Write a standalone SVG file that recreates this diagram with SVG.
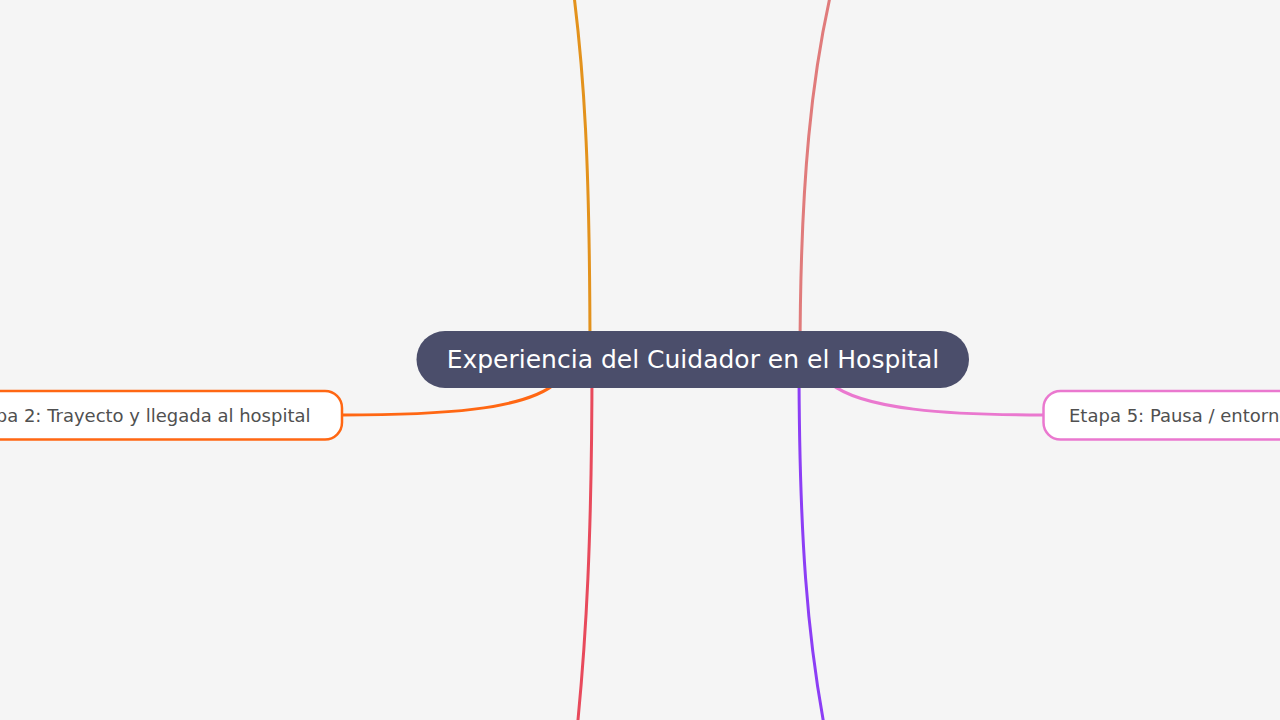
<svg xmlns="http://www.w3.org/2000/svg" width="1280" height="720" viewBox="0 0 1280 720">
<style>
.conn{fill:none;stroke-width:3;stroke-linecap:round}
.topic{fill:#ffffff;stroke-width:2.5}
.tt{font-family:"DejaVu Sans","Liberation Sans",sans-serif;font-size:18px;fill:#505050}
.ct{font-family:"DejaVu Sans","Liberation Sans",sans-serif;font-size:25px;fill:#ffffff}
</style>
<rect width="1280" height="720" fill="#f5f5f5"/>
<g id="connectors">
<path class="conn" stroke="#e3921c" d="M590,360 C590,160 584,70 572,-20"/>
<path class="conn" stroke="#e07b7b" d="M800,360 C800,180 812,70 834,-20"/>
<path class="conn" stroke="#e84a5c" d="M592,360 C592,540 586,640 577,730"/>
<path class="conn" stroke="#8c3ef5" d="M799,360 C799,540 808,640 825,730"/>
<path class="conn" stroke="#ff6713" d="M556,383 C525,410 440,415 342,415"/>
<path class="conn" stroke="#ea78cf" d="M830,383 C862,410 950,415 1043,415"/>
</g>
<g id="central">
<rect x="416.5" y="331" width="552.5" height="57" rx="28.5" fill="#4b4e6b"/>
<text class="ct" x="693" y="368" text-anchor="middle">Experiencia del Cuidador en el Hospital</text>
</g>
<g id="etapa2">
<rect class="topic" x="-60" y="391" width="402" height="48.5" rx="17" stroke="#ff6713"/>
<text class="tt" x="310.5" y="422" text-anchor="end">Etapa 2: Trayecto y llegada al hospital</text>
</g>
<g id="etapa5">
<rect class="topic" x="1043.5" y="391" width="300" height="48.5" rx="17" stroke="#ea78cf"/>
<text class="tt" x="1069" y="422">Etapa 5: Pausa / entorno</text>
</g>
</svg>
